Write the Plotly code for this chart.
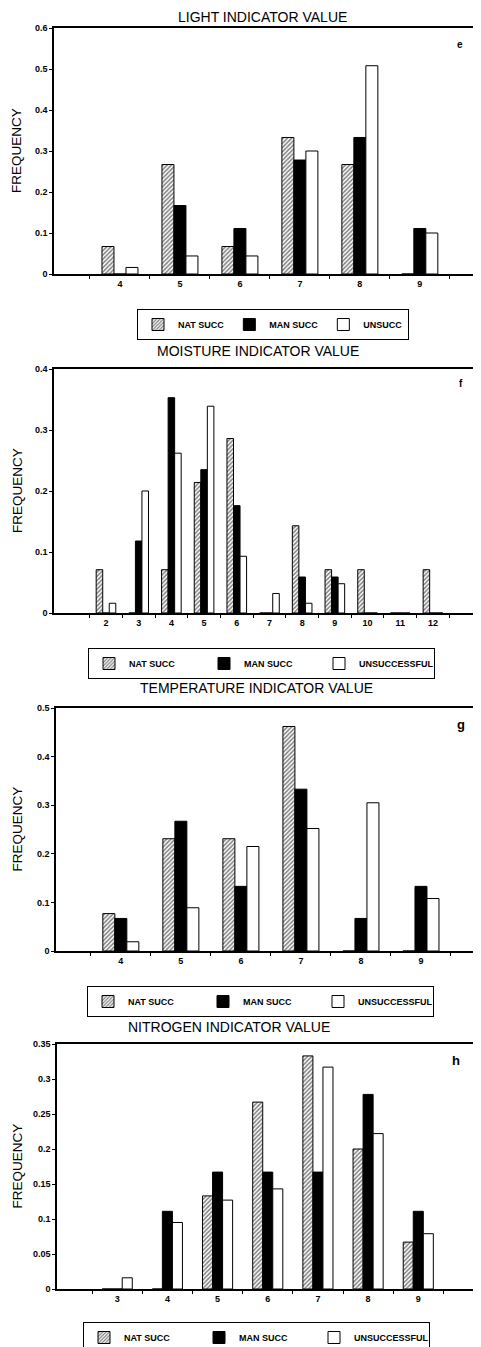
import plotly.graph_objects as go

# the page body has an 8px margin, so the figure is sized to fill the rest of the window
W, H = 481, 1347
OFF = 8
FIG_W, FIG_H = W - OFF, H - OFF

# ---- data ----
light_cats = ["4", "5", "6", "7", "8", "9"]
light_nat = [0.067, 0.267, 0.067, 0.333, 0.267, 0]
light_man = [0, 0.167, 0.111, 0.278, 0.333, 0.111]
light_unsucc = [0.016, 0.044, 0.044, 0.30, 0.508, 0.10]
light_yticks = [0, 0.1, 0.2, 0.3, 0.4, 0.5, 0.6]
light_ytext = ["0", "0.1", "0.2", "0.3", "0.4", "0.5", "0.6"]

moist_cats = ["2", "3", "4", "5", "6", "7", "8", "9", "10", "11", "12"]
moist_nat = [0.071, 0, 0.071, 0.214, 0.286, 0, 0.143, 0.071, 0.071, 0, 0.071]
moist_man = [0, 0.118, 0.353, 0.235, 0.176, 0, 0.059, 0.059, 0, 0, 0]
moist_unsucc = [0.016, 0.2, 0.262, 0.339, 0.093, 0.032, 0.016, 0.048, 0, 0, 0]
moist_yticks = [0, 0.1, 0.2, 0.3, 0.4]
moist_ytext = ["0", "0.1", "0.2", "0.3", "0.4"]

temp_cats = ["4", "5", "6", "7", "8", "9"]
temp_nat = [0.077, 0.231, 0.231, 0.462, 0, 0]
temp_man = [0.067, 0.267, 0.133, 0.333, 0.067, 0.133]
temp_unsucc = [0.019, 0.089, 0.215, 0.252, 0.305, 0.108]
temp_yticks = [0, 0.1, 0.2, 0.3, 0.4, 0.5]
temp_ytext = ["0", "0.1", "0.2", "0.3", "0.4", "0.5"]

nitro_cats = ["3", "4", "5", "6", "7", "8", "9"]
nitro_nat = [0, 0, 0.133, 0.267, 0.333, 0.2, 0.067]
nitro_man = [0, 0.111, 0.167, 0.167, 0.167, 0.278, 0.111]
nitro_unsucc = [0.016, 0.095, 0.127, 0.143, 0.317, 0.222, 0.079]
nitro_yticks = [0, 0.05, 0.1, 0.15, 0.2, 0.25, 0.3, 0.35]
nitro_ytext = ["0", "0.05", "0.1", "0.15", "0.2", "0.25", "0.3", "0.35"]

FONT = "Liberation Sans, Arial, sans-serif"


def xp(px):
    return (px - OFF) / FIG_W


def yp(py):
    return 1 - (py - OFF) / FIG_H


# panel geometry in window pixels: title, plot box, x range, letter, legend box
panels = [
    dict(title="LIGHT INDICATOR VALUE", tx=262, ty=17, top=28, bottom=274, left=54,
         xr=[-1.1, 6.02], letter="e", lx=460, ly=44, lsize=10,
         cats=light_cats, nat=light_nat, man=light_man, uns=light_unsucc, uname="UNSUCC",
         yr=[0, 0.6], yt=light_yticks, ytt=light_ytext,
         legx=137, legy=309, entry=0),
    dict(title="MOISTURE INDICATOR VALUE", tx=258, ty=351, top=369, bottom=613, left=54,
         xr=[-1.59, 11.47], letter="f", lx=461, ly=383, lsize=10,
         cats=moist_cats, nat=moist_nat, man=moist_man, uns=moist_unsucc, uname="UNSUCCESSFUL",
         yr=[0, 0.4], yt=moist_yticks, ytt=moist_ytext,
         legx=88, legy=648, entry=70),
    dict(title="TEMPERATURE INDICATOR VALUE", tx=256, ty=688, top=708, bottom=951, left=56,
         xr=[-1.08, 6.0], letter="g", lx=461, ly=724, lsize=13,
         cats=temp_cats, nat=temp_nat, man=temp_man, uns=temp_unsucc, uname="UNSUCCESSFUL",
         yr=[0, 0.5], yt=temp_yticks, ytt=temp_ytext,
         legx=87, legy=986, entry=70),
    dict(title="NITROGEN INDICATOR VALUE", tx=229, ty=1027, top=1044, bottom=1289, left=57,
         xr=[-1.2, 7.25], letter="h", lx=456, ly=1060, lsize=13,
         cats=nitro_cats, nat=nitro_nat, man=nitro_man, uns=nitro_unsucc, uname="UNSUCCESSFUL",
         yr=[0, 0.35], yt=nitro_yticks, ytt=nitro_ytext,
         legx=83, legy=1322, entry=70),
]

fig = go.Figure()
annotations = []
layout_extra = {}

for i, p in enumerate(panels, start=1):
    sfx = "" if i == 1 else str(i)
    series = [
        ("NAT SUCC", p["nat"], dict(color="white", line=dict(color="black", width=1),
                                    pattern=dict(shape="/", fgcolor="black", size=3, solidity=0.5))),
        ("MAN SUCC", p["man"], dict(color="black", line=dict(color="black", width=1))),
        (p["uname"], p["uns"], dict(color="white", line=dict(color="black", width=1))),
    ]
    for name, vals, marker in series:
        fig.add_trace(go.Bar(x=p["cats"], y=vals, name=name, marker=marker,
                             xaxis="x" + sfx, yaxis="y" + sfx, legend="legend" + sfx))

    layout_extra["xaxis" + sfx] = dict(
        domain=[xp(p["left"]), 1], anchor="y" + sfx, type="category", range=p["xr"],
        tickson="boundaries", ticks="outside", ticklen=3, tickcolor="black",
        showline=True, linecolor="black", linewidth=1.5, mirror=True,
        showgrid=False, zeroline=False, automargin=False,
        tickfont=dict(family=FONT, size=9, color="black", weight="bold"),
    )
    layout_extra["yaxis" + sfx] = dict(
        domain=[yp(p["bottom"]), yp(p["top"])], anchor="x" + sfx, range=p["yr"],
        tickvals=p["yt"], ticktext=p["ytt"], ticks="outside", ticklen=3, tickcolor="black",
        showline=True, linecolor="black", linewidth=1.5, showgrid=False, zeroline=False,
        automargin=False,
        tickfont=dict(family=FONT, size=9, color="black", weight="bold"),
    )
    legend = dict(
        orientation="h", x=xp(p["legx"]), xanchor="left", y=yp(p["legy"]), yanchor="top",
        bordercolor="black", borderwidth=1, bgcolor="white", itemclick=False,
        font=dict(family=FONT, size=9, color="black", weight="bold"),
    )
    if p["entry"]:
        legend.update(entrywidth=p["entry"], entrywidthmode="pixels")
    layout_extra["legend" + sfx] = legend

    common = dict(xref="paper", yref="paper", showarrow=False, xanchor="center", yanchor="middle")
    annotations.append(dict(text=p["title"], x=xp(p["tx"]), y=yp(p["ty"]),
                            font=dict(family=FONT, size=14, color="black"), **common))
    annotations.append(dict(text="FREQUENCY", x=xp(17), y=yp((p["top"] + p["bottom"]) / 2),
                            textangle=-90,
                            font=dict(family=FONT, size=13.5, color="black"), **common))
    annotations.append(dict(text=p["letter"], x=xp(p["lx"]), y=yp(p["ly"]),
                            font=dict(family=FONT, size=p["lsize"], color="black", weight="bold"),
                            **common))

fig.update_layout(
    width=FIG_W, height=FIG_H,
    margin=dict(l=0, r=0, t=0, b=0, autoexpand=False),
    paper_bgcolor="white", plot_bgcolor="white",
    barmode="group", bargap=0.4, bargroupgap=0,
    annotations=annotations,
    **layout_extra,
)

fig.write_html("out.html")
